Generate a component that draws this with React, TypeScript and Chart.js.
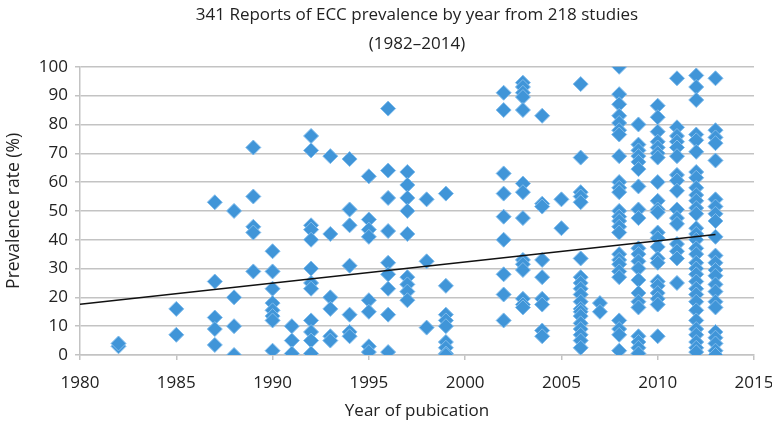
import React, { useEffect, useRef } from "react";
import { Chart, registerables } from "chart.js";

Chart.register(...registerables);

const titleLines = ["341 Reports of ECC prevalence by year from 218 studies", "(1982–2014)"];
const xAxisTitle = "Year of pubication";
const yAxisTitle = "Prevalence rate (%)";

const xTicks = [1980, 1985, 1990, 1995, 2000, 2005, 2010, 2015];
const yTicks = [0, 10, 20, 30, 40, 50, 60, 70, 80, 90, 100];

const years = [1982, 1985, 1987, 1988, 1989, 1990, 1991, 1992, 1993, 1994, 1995, 1996, 1997, 1998, 1999, 2002, 2003, 2004, 2005, 2006, 2007, 2008, 2009, 2010, 2011, 2012, 2013];

const prevalenceByYear = [
  [3, 4],
  [16, 7],
  [53, 25.5, 13, 9, 3.5],
  [50, 20, 10, 0],
  [72, 55, 44.5, 42.5, 29],
  [36, 29, 23, 18, 15.5, 13.5, 12, 1.5],
  [10, 5, 0.5],
  [76, 71, 45, 43.5, 40, 30, 25, 23, 12, 8, 5, 0.5],
  [69, 42, 20, 16, 6.5, 5],
  [68, 50.5, 45, 31, 14, 8, 6.5],
  [62, 47, 43.5, 41, 19, 15, 3, 1],
  [85.5, 64, 54.5, 43, 32, 28, 23, 14, 1],
  [63.5, 59, 54.5, 50, 42, 27, 24.5, 22, 19],
  [54, 32.5, 9.5],
  [56, 24, 14, 12, 10, 4.5, 2.5, 0.5, 0],
  [91, 85, 63, 56, 48, 40, 28, 21, 12],
  [94.5, 93, 91, 89.5, 85, 59.5, 56.5, 47.5, 33, 31.5, 29.5, 19.5, 17.5, 16.5],
  [83, 52.5, 51.5, 33, 27, 19.5, 17.5, 8.5, 6.5],
  [54, 44],
  [94, 68.5, 56.5, 55, 53, 33.5, 27, 25, 23, 21, 18.5, 16, 15, 13.5, 11, 9, 7, 5, 2.5],
  [18, 15],
  [100, 90.5, 87, 83, 80.5, 78, 76.5, 69, 60, 58, 56.5, 50, 48, 46.5, 44.5, 42.5, 35, 33, 31.5, 29, 27, 12, 9, 7, 1.5],
  [80, 73, 71, 69, 67, 64.5, 58.5, 50.5, 47.5, 37, 35, 32.5, 30, 26, 21.5, 18.5, 16.5, 6.5, 4.5, 2.5, 0.5],
  [86.5, 82.5, 77.5, 74, 72, 70, 68.5, 60, 53.5, 50.5, 49.5, 42.5, 40.5, 37.5, 33.5, 32, 25.5, 24, 21.5, 19.5, 17.5, 6.5],
  [96, 79, 76, 74, 72, 69, 62.5, 60.5, 57, 50.5, 47.5, 45.5, 38.5, 36, 33.5, 25],
  [97, 93, 88.5, 76.5, 74.5, 70.5, 63.5, 61.5, 58, 55.5, 53.5, 51, 49, 44, 42, 40, 37, 35, 32, 30, 28, 25.5, 23, 21, 18.5, 15.5, 12, 9, 7, 4.5, 2.5, 1],
  [96, 78, 75.5, 73.5, 67.5, 54, 51.5, 49, 46.5, 41, 34.5, 32, 29.5, 27.5, 24.5, 22, 18.5, 16.5, 8, 6, 4, 1.5, 0],
];

const trendYears = [1980, 2013];
const trendValues = [17.6, 41.8];

const FONT = "'Open Sans', 'Noto Sans', sans-serif";
const TEXT = "#222222";
const GRID = "#c3c3c3";

export default function App() {
  const ref = useRef<HTMLCanvasElement>(null);

  useEffect(() => {
    const points: { x: number; y: number }[] = [];
    years.forEach((yr, i) => {
      prevalenceByYear[i].forEach((v) => points.push({ x: yr, y: v }));
    });
    const trend = trendYears.map((x, i) => ({ x, y: trendValues[i] }));

    const chart = new Chart(ref.current!, {
      type: "scatter",
      data: {
        datasets: [
          {
            type: "line",
            data: trend,
            borderColor: "#111111",
            borderWidth: 1.6,
            pointRadius: 0,
            fill: false,
            order: 0,
          },
          {
            type: "scatter",
            data: points,
            pointStyle: "rectRot",
            pointRadius: 7.5,
            backgroundColor: "#4095d8",
            borderColor: "#80bcec",
            borderWidth: 1,
            order: 1,
          },
        ],
      },
      options: {
        responsive: false,
        animation: false,
        layout: { padding: { left: 0, right: 0, top: 0, bottom: 0 } },
        plugins: {
          legend: { display: false },
          tooltip: { enabled: false },
          title: {
            display: true,
            fullSize: false,
            text: titleLines,
            color: TEXT,
            font: { family: FONT, size: 17, weight: "normal", lineHeight: 1.7 },
            padding: { top: 1, bottom: 8 },
          },
        },
        scales: {
          x: {
            type: "linear",
            min: xTicks[0],
            max: xTicks[xTicks.length - 1],
            afterBuildTicks: (s: any) => {
              s.ticks = xTicks.map((v) => ({ value: v }));
            },
            ticks: {
              color: TEXT,
              font: { family: FONT, size: 17 },
              padding: 13,
              maxRotation: 0,
              callback: (v: any) => String(v),
            },
            grid: { drawOnChartArea: false, drawTicks: true, tickLength: 5, color: GRID, lineWidth: 1.5 },
            border: { color: GRID, width: 1.5 },
            title: { display: true, text: xAxisTitle, color: TEXT, font: { family: FONT, size: 17 }, padding: { top: 0, bottom: 0 } },
            afterFit: (s: any) => {
              s.height = 66;
              s.paddingLeft = 0;
              s.paddingRight = 18;
            },
          },
          y: {
            min: 0,
            max: 100,
            afterBuildTicks: (s: any) => {
              s.ticks = yTicks.map((v) => ({ value: v }));
            },
            ticks: { color: TEXT, font: { family: FONT, size: 17 }, padding: 7 },
            grid: { color: GRID, lineWidth: 1.5, tickLength: 5 },
            border: { color: GRID, width: 1.5 },
            title: { display: true, text: yAxisTitle, color: TEXT, font: { family: FONT, size: 17.5 }, padding: { top: 4, bottom: 0 } },
            afterFit: (s: any) => {
              s.width = 80;
            },
          },
        },
      },
    });
    return () => chart.destroy();
  }, []);

  return (
    <div style={{ position: "fixed", left: 0, top: 0, width: 772, height: 421, background: "#fff" }}>
      <canvas ref={ref} width={772} height={421} />
    </div>
  );
}
